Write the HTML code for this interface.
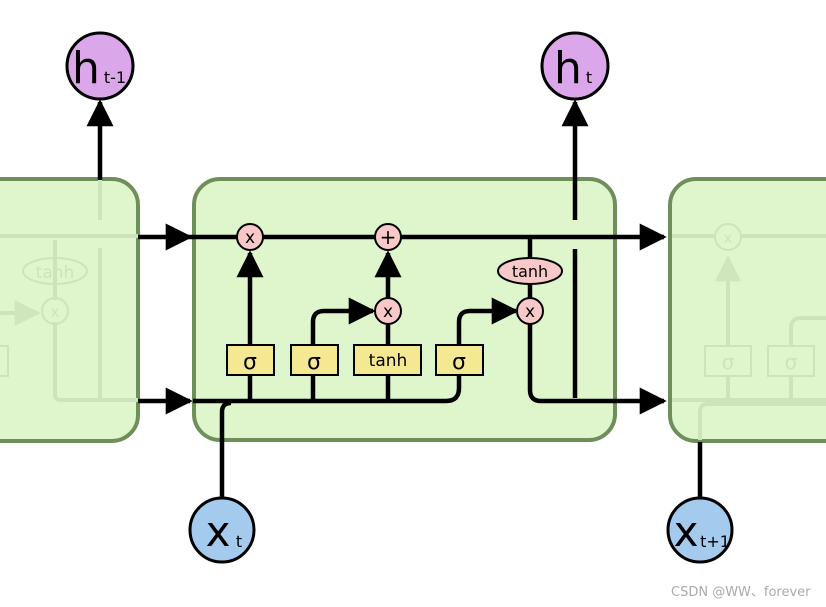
<!DOCTYPE html>
<html><head><meta charset="utf-8"><style>
html,body{margin:0;padding:0;background:#fff;width:826px;height:607px;overflow:hidden}
svg{display:block}
text{font-family:"DejaVu Sans","Liberation Sans",sans-serif}
</style></head><body>
<svg width="826" height="607" viewBox="0 0 826 607" xmlns="http://www.w3.org/2000/svg">
<defs>
<marker id="a" viewBox="0 0 10 10" refX="9" refY="5" markerWidth="6" markerHeight="6" markerUnits="strokeWidth" orient="auto"><path d="M0,0 L10,5 L0,10 z" fill="#000"/></marker>
<marker id="g" viewBox="0 0 10 10" refX="9" refY="5" markerWidth="6.5" markerHeight="6.5" markerUnits="strokeWidth" orient="auto"><path d="M0,0 L10,5 L0,10 z" fill="#cfe6bd"/></marker>
</defs>

<rect x="-40" y="179" width="178" height="262" rx="26" fill="#dff6cd" stroke="#6f8f5a" stroke-width="4"/>
<g stroke="#cde3bb" stroke-width="4" fill="none">
<line x1="0" y1="236" x2="138" y2="236"/>
<path d="M55,240 V300 M55,322 V395 Q55,400 62,400 H138"/>
<line x1="100" y1="179" x2="100" y2="220"/>
<line x1="100" y1="248" x2="100" y2="398"/>
<line x1="0" y1="313" x2="38" y2="313" marker-end="url(#g)"/>
</g>
<ellipse cx="55" cy="271" rx="32" ry="13" fill="none" stroke="#cde3bb" stroke-width="2"/>
<text x="55" y="278" text-anchor="middle" font-size="17" fill="#cde3bb">tanh</text>
<circle cx="55" cy="311" r="13" fill="none" stroke="#cde3bb" stroke-width="2"/>
<text x="55" y="317" text-anchor="middle" font-size="15" fill="#cde3bb">x</text>
<rect x="-10" y="346" width="18" height="30" fill="none" stroke="#cde3bb" stroke-width="2"/>

<rect x="670" y="179" width="200" height="262" rx="26" fill="#dff6cd" stroke="#6f8f5a" stroke-width="4"/>
<g stroke="#cde3bb" stroke-width="4" fill="none">
<line x1="672" y1="236" x2="826" y2="236"/>
<line x1="672" y1="400" x2="826" y2="400"/>
<path d="M700,440 V412 Q700,404 708,404 H826"/>
<line x1="728" y1="346" x2="728" y2="258" marker-end="url(#g)"/>
<path d="M791,346 V328 Q791,318 801,318 H826"/>
<line x1="728" y1="376" x2="728" y2="400"/>
<line x1="791" y1="376" x2="791" y2="400"/>
</g>
<circle cx="728" cy="237" r="13" fill="#dff6cd" stroke="#cde3bb" stroke-width="2"/>
<text x="728" y="243" text-anchor="middle" font-size="15" fill="#cde3bb">x</text>
<rect x="705" y="346" width="46" height="30" fill="none" stroke="#cde3bb" stroke-width="2"/>
<text x="728" y="369" text-anchor="middle" font-size="20" fill="#cde3bb">σ</text>
<rect x="768" y="346" width="46" height="30" fill="none" stroke="#cde3bb" stroke-width="2"/>
<text x="791" y="369" text-anchor="middle" font-size="20" fill="#cde3bb">σ</text>

<rect x="194" y="179" width="421" height="261" rx="26" fill="#dff6cd" stroke="#6f8f5a" stroke-width="4"/>

<g stroke="#000" stroke-width="4.5" fill="none">
<line x1="138" y1="237" x2="190" y2="237" marker-end="url(#a)"/>
<line x1="138" y1="401" x2="190" y2="401" marker-end="url(#a)"/>
<line x1="615" y1="237" x2="664" y2="237" marker-end="url(#a)"/>
<line x1="615" y1="401" x2="664" y2="401" marker-end="url(#a)"/>
<line x1="190" y1="237" x2="615" y2="237"/>
<path d="M193,401 H446 Q459,401 459,388 V375"/>
<path d="M222,497 V412 Q222,403 231,403"/>
<line x1="250" y1="401" x2="250" y2="375"/>
<line x1="313" y1="401" x2="313" y2="375"/>
<line x1="388" y1="401" x2="388" y2="375"/>
<line x1="250" y1="345" x2="250" y2="253" marker-end="url(#a)"/>
<path d="M313,345 V322 Q313,311 324,311 H373" marker-end="url(#a)"/>
<line x1="388" y1="345" x2="388" y2="325"/>
<line x1="388" y1="298" x2="388" y2="253" marker-end="url(#a)"/>
<path d="M459,345 V322 Q459,311 470,311 H516" marker-end="url(#a)"/>
<line x1="530" y1="237" x2="530" y2="260"/>
<line x1="530" y1="283" x2="530" y2="298"/>
<path d="M530,324 V390 Q530,401 541,401 H615"/>
<path d="M575,398 V249"/>
<line x1="575" y1="220" x2="575" y2="102" marker-end="url(#a)"/>
<line x1="100" y1="180" x2="100" y2="102" marker-end="url(#a)"/>
<line x1="700" y1="442" x2="700" y2="497"/>
</g>

<g stroke="#000" stroke-width="2" fill="#f9c9c9">
<circle cx="250" cy="237" r="13"/>
<circle cx="388" cy="237" r="13"/>
<circle cx="388" cy="311" r="13"/>
<circle cx="530" cy="311" r="13"/>
<ellipse cx="530" cy="271" rx="32" ry="13"/>
</g>
<g font-size="17" text-anchor="middle" fill="#000">
<text x="250" y="243">x</text>
<text x="388" y="244" font-size="20">+</text>
<text x="388" y="317">x</text>
<text x="530" y="317">x</text>
<text x="530" y="277" font-size="16">tanh</text>
</g>

<g stroke="#000" stroke-width="2" fill="#f4e992">
<rect x="227" y="345" width="47" height="30"/>
<rect x="291" y="345" width="47" height="30"/>
<rect x="354" y="345" width="67" height="30"/>
<rect x="436" y="345" width="47" height="30"/>
</g>
<g font-size="22" text-anchor="middle" fill="#000">
<text x="250" y="369">σ</text>
<text x="314" y="369">σ</text>
<text x="459" y="369">σ</text>
<text x="388" y="366" font-size="17">tanh</text>
</g>

<g stroke="#000" stroke-width="3" fill="#dca7ea">
<circle cx="100" cy="66" r="33"/>
<circle cx="575" cy="66" r="33"/>
</g>
<text x="86" y="83" font-size="44" text-anchor="middle">h</text>
<text x="115" y="83" font-size="16" text-anchor="middle">t-1</text>
<text x="568" y="83" font-size="44" text-anchor="middle">h</text>
<text x="589" y="83" font-size="16" text-anchor="middle">t</text>

<g stroke="#000" stroke-width="3" fill="#a4cbed">
<circle cx="222" cy="530" r="32"/>
<circle cx="700" cy="530" r="32"/>
</g>
<text x="218" y="546" font-size="42" text-anchor="middle">x</text>
<text x="239" y="547" font-size="16" text-anchor="middle">t</text>
<text x="686" y="546" font-size="42" text-anchor="middle">x</text>
<text x="715" y="547" font-size="16" text-anchor="middle">t+1</text>

<text x="671" y="596" font-size="13" fill="#aaa" font-family="Liberation Sans, Noto Sans CJK SC, sans-serif">CSDN @WW、forever</text>
</svg>
</body></html>
